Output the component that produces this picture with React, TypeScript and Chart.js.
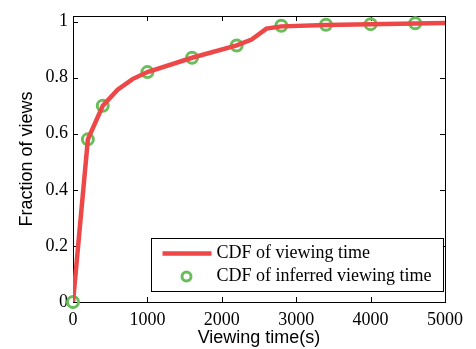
import React, { useEffect, useRef } from "react";
import { Chart, registerables } from "chart.js";

Chart.register(...registerables);

// Viewing-time CDF (measured)
const viewTime = [0, 200, 400, 600, 800, 1000, 1600, 2200, 2400, 2600, 2800, 3400, 4000, 5000];
const viewCdf = [0, 0.58, 0.7, 0.757, 0.795, 0.82, 0.871, 0.915, 0.936, 0.975, 0.983, 0.988, 0.991, 0.995];

// Viewing-time CDF (inferred)
const inferredTime = [0, 200, 400, 1000, 1600, 2200, 2800, 3400, 4000, 4600];
const inferredCdf = [0, 0.58, 0.7, 0.82, 0.871, 0.915, 0.985, 0.989, 0.991, 0.994];

const xTicks = [0, 1000, 2000, 3000, 4000, 5000];
const yTicks = [0, 0.2, 0.4, 0.6, 0.8, 1];

const seriesNames = ["CDF of viewing time", "CDF of inferred viewing time"];

const RED = "#ee4747";
const GREEN = "#6abd5b";
const SERIF = "'Liberation Serif', 'Times New Roman', serif";
const SANS = "'Liberation Sans', Arial, sans-serif";

// Box around the plot with inward tick marks on every side
const framePlugin = {
  id: "frame",
  beforeDatasetsDraw(chart: any) {
    const { ctx, chartArea: a, scales } = chart;
    const tl = 5;
    ctx.save();
    ctx.strokeStyle = "#000";
    ctx.lineWidth = 1;
    ctx.beginPath();
    for (const v of xTicks) {
      const x = Math.round(scales.x.getPixelForValue(v)) + 0.5;
      ctx.moveTo(x, a.bottom);
      ctx.lineTo(x, a.bottom - tl);
      ctx.moveTo(x, a.top);
      ctx.lineTo(x, a.top + tl);
    }
    for (const v of yTicks) {
      const y = Math.round(scales.y.getPixelForValue(v)) + 0.5;
      ctx.moveTo(a.left, y);
      ctx.lineTo(a.left + tl, y);
      ctx.moveTo(a.right, y);
      ctx.lineTo(a.right - tl, y);
    }
    ctx.stroke();
    ctx.strokeRect(Math.round(a.left) + 0.5, Math.round(a.top) + 0.5, Math.round(a.right - a.left), Math.round(a.bottom - a.top));
    ctx.restore();
  },
};

// Boxed legend in the lower-right corner of the plot
const legendPlugin = {
  id: "boxLegend",
  afterDraw(chart: any) {
    const { ctx, chartArea: a } = chart;
    const w = 292;
    const h = 53;
    const left = Math.round(a.right - 2 - w) + 0.5;
    const top = Math.round(a.bottom - 11 - h) + 0.5;
    ctx.save();
    ctx.fillStyle = "#fff";
    ctx.fillRect(left, top, w, h);
    ctx.strokeStyle = "#000";
    ctx.lineWidth = 1;
    ctx.strokeRect(left, top, w, h);

    const row1 = top + 15;
    const row2 = top + 38;
    ctx.strokeStyle = RED;
    ctx.lineWidth = 4.5;
    ctx.beginPath();
    ctx.moveTo(left + 11, row1);
    ctx.lineTo(left + 60, row1);
    ctx.stroke();

    ctx.strokeStyle = GREEN;
    ctx.lineWidth = 3;
    ctx.beginPath();
    ctx.arc(left + 35, row2, 4.5, 0, Math.PI * 2);
    ctx.stroke();

    ctx.fillStyle = "#000";
    ctx.font = `18px ${SERIF}`;
    ctx.textBaseline = "middle";
    ctx.textAlign = "left";
    ctx.fillText(seriesNames[0], left + 65, row1);
    ctx.fillText(seriesNames[1], left + 65, row2);
    ctx.restore();
  },
};

export default function App() {
  const canvasRef = useRef<HTMLCanvasElement | null>(null);

  useEffect(() => {
    const canvas = canvasRef.current;
    if (!canvas) return;
    const chart = new Chart(canvas, {
      type: "scatter",
      data: {
        datasets: [
          {
            label: seriesNames[0],
            data: viewTime.map((t, i) => ({ x: t, y: viewCdf[i] })),
            showLine: true,
            borderColor: RED,
            backgroundColor: RED,
            borderWidth: 4.5,
            pointRadius: 0,
            tension: 0,
            clip: 0,
          },
          {
            label: seriesNames[1],
            data: inferredTime.map((t, i) => ({ x: t, y: inferredCdf[i] })),
            showLine: false,
            pointRadius: 5.5,
            pointBorderWidth: 3,
            pointBorderColor: GREEN,
            pointBackgroundColor: "rgba(0,0,0,0)",
            clip: false,
          },
        ],
      },
      options: {
        responsive: false,
        animation: false,
        devicePixelRatio: 1,
        layout: { padding: { top: 16, right: 31, left: 0, bottom: 0 } },
        plugins: {
          legend: { display: false },
          tooltip: { enabled: false },
        },
        scales: {
          x: {
            type: "linear",
            min: 0,
            max: 5000,
            grid: { display: false, drawTicks: false, tickLength: 0 },
            border: { display: false },
            afterBuildTicks: (s: any) => {
              s.ticks = xTicks.map((v) => ({ value: v }));
            },
            afterFit: (s: any) => {
              s.height = 47;
            },
            ticks: {
              color: "#000",
              font: { family: SERIF, size: 18 },
              padding: 7,
              maxRotation: 0,
              autoSkip: false,
              callback: (v: any) => String(v),
            },
            title: {
              display: true,
              text: "Viewing time(s)",
              color: "#000",
              font: { family: SANS, size: 18 },
              padding: { top: 0, bottom: 0 },
            },
          },
          y: {
            type: "linear",
            min: 0,
            max: 1.02,
            grid: { display: false, drawTicks: false, tickLength: 0 },
            border: { display: false },
            afterBuildTicks: (s: any) => {
              s.ticks = yTicks.map((v) => ({ value: v }));
            },
            afterFit: (s: any) => {
              s.width = 73;
            },
            ticks: {
              color: "#000",
              font: { family: SERIF, size: 18 },
              padding: 5,
              autoSkip: false,
              callback: (v: any) => String(Math.round(v * 10) / 10),
            },
            title: {
              display: true,
              text: "Fraction of views",
              color: "#000",
              font: { family: SANS, size: 18 },
              padding: { top: 16, bottom: 0 },
            },
          },
        },
      },
      plugins: [framePlugin, legendPlugin],
    });
    return () => chart.destroy();
  }, []);

  return (
    <div style={{ position: "fixed", left: 0, top: 0, width: 476, height: 349, background: "#fff" }}>
      <canvas ref={canvasRef} width={476} height={349} style={{ display: "block" }} />
    </div>
  );
}
